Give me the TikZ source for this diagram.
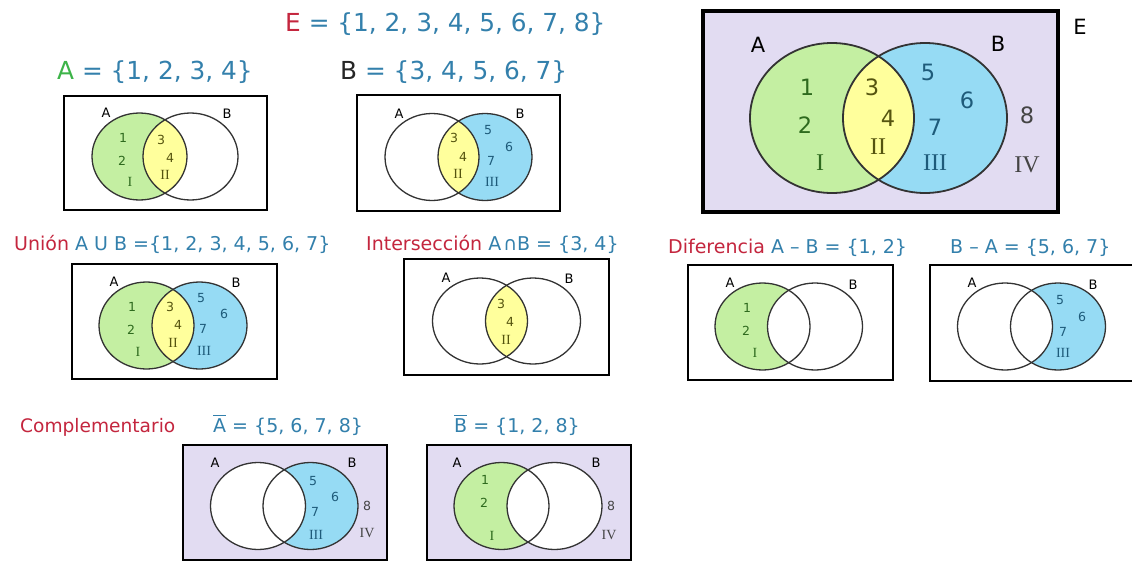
\documentclass[tikz,border=0pt]{standalone}
\usepackage{fontspec}
\setmainfont{DejaVu Sans}
\newfontfamily\romf{Liberation Serif}
\definecolor{lav}{HTML}{E2DCF2}
\definecolor{gfill}{HTML}{C4EFA2}
\definecolor{yfill}{HTML}{FFFF9C}
\definecolor{bfill}{HTML}{96DBF4}
\definecolor{redt}{HTML}{C4263E}
\definecolor{bluet}{HTML}{3380AC}
\definecolor{greent}{HTML}{3DB449}
\definecolor{dgreen}{HTML}{2E6A1E}
\definecolor{olive}{HTML}{55540F}
\definecolor{navy}{HTML}{1E5B7A}
\definecolor{grayt}{HTML}{444444}
\definecolor{cline}{HTML}{333333}
\newcommand\obar[1]{\leavevmode\vbox{\hrule height 1.4pt\kern 2.2pt\hbox{#1}}}
\newcommand\venn[9]{%
  \coordinate (#1A) at (#2,#4);
  \coordinate (#1B) at (#3,#4);
  \fill[#7] (#1A) ellipse [x radius=#5pt, y radius=#6pt];
  \fill[#9] (#1B) ellipse [x radius=#5pt, y radius=#6pt];
  \begin{scope}
    \clip (#1A) ellipse [x radius=#5pt, y radius=#6pt];
    \fill[#8] (#1B) ellipse [x radius=#5pt, y radius=#6pt];
  \end{scope}
  \draw[vcirc] (#1A) ellipse [x radius=#5pt, y radius=#6pt];
  \draw[vcirc] (#1B) ellipse [x radius=#5pt, y radius=#6pt];
}
\tikzset{
  vcirc/.style={draw=cline, line width=1.3pt},
  frame/.style={draw=black, line width=2pt},
  ttl/.style={anchor=base west, inner sep=0pt, text=bluet, font=\fontsize{19}{19}\selectfont},
  ttlbig/.style={anchor=base west, inner sep=0pt, text=bluet, font=\fontsize{24.8}{24.8}\selectfont},
  sl/.style={inner sep=0pt, text=black, font=\fontsize{13}{13}\selectfont},
  sg/.style={inner sep=0pt, text=dgreen, font=\fontsize{12.5}{12.5}\selectfont},
  sy/.style={inner sep=0pt, text=olive, font=\fontsize{12.5}{12.5}\selectfont},
  sb/.style={inner sep=0pt, text=navy, font=\fontsize{12.5}{12.5}\selectfont},
  so/.style={inner sep=0pt, text=grayt, font=\fontsize{12.5}{12.5}\selectfont},
  rg/.style={inner sep=0pt, text=dgreen, font=\romf\fontsize{14}{14}\selectfont},
  ry/.style={inner sep=0pt, text=olive, font=\romf\fontsize{14}{14}\selectfont},
  rb/.style={inner sep=0pt, text=navy, font=\romf\fontsize{14}{14}\selectfont},
  ro/.style={inner sep=0pt, text=grayt, font=\romf\fontsize{14}{14}\selectfont},
  bl/.style={inner sep=0pt, text=black, font=\fontsize{21}{21}\selectfont},
  bg/.style={inner sep=0pt, text=dgreen, font=\fontsize{22.5}{22.5}\selectfont},
  by/.style={inner sep=0pt, text=olive, font=\fontsize{22.5}{22.5}\selectfont},
  bb/.style={inner sep=0pt, text=navy, font=\fontsize{22.5}{22.5}\selectfont},
  bo/.style={inner sep=0pt, text=grayt, font=\fontsize{22.5}{22.5}\selectfont},
  brg/.style={inner sep=0pt, text=dgreen, font=\romf\fontsize{24}{24}\selectfont},
  bry/.style={inner sep=0pt, text=olive, font=\romf\fontsize{24}{24}\selectfont},
  brb/.style={inner sep=0pt, text=navy, font=\romf\fontsize{24}{24}\selectfont},
  bro/.style={inner sep=0pt, text=grayt, font=\romf\fontsize{24}{24}\selectfont},
}
\begin{document}
\begin{tikzpicture}[x=1pt, y=-1pt]
\useasboundingbox[fill=white] (0,0) rectangle (1132,562);

% ---------- titles ----------
\node[ttlbig] (tE) at (285,31) {\textcolor{redt}{E} = \{1, 2, 3, 4, 5, 6, 7, 8\}};
\node[ttlbig] (tA) at (57,79) {\textcolor{greent}{A} = \{1, 2, 3, 4\}};
\node[ttlbig] (tB) at (340,79) {\textcolor{black!85}{B} = \{3, 4, 5, 6, 7\}};
\node[ttl] (tU) at (14,250) {\textcolor{redt}{Unión} A U B =\{1, 2, 3, 4, 5, 6, 7\}};
\node[ttl] (tI) at (366,250) {\textcolor{redt}{Intersección} A\kern2pt∩B = \{3, 4\}};
\node[ttl] (tD) at (668,253) {\textcolor{redt}{Diferencia} A – B = \{1, 2\}};
\node[ttl] (tD2) at (950,253) {B – A = \{5, 6, 7\}};
\node[ttl, text=redt, font=\fontsize{18.6}{18.6}\selectfont] (tC) at (20,432) {Complementario};
\node[ttl] (tCA) at (213,432) {\obar{A} = \{5, 6, 7, 8\}};
\node[ttl] (tCB) at (454,432) {\obar{B} = \{1, 2, 8\}};

% ---------- big diagram ----------
\filldraw[fill=lav, draw=black, line width=3.5pt] (703,11) rectangle (1058,212);
\begin{scope}[vcirc/.style={draw=cline, line width=1.8pt}]
\venn{G}{832}{925}{118}{82}{75}{gfill}{yfill}{bfill}
\end{scope}
\node[bl] (GlA) at (758,45) {A};
\node[bl] (GlB) at (998,44) {B};
\node[bl] (GlE) at (1080,27) {E};
\node[bg] (G1) at (807,87) {1};
\node[bg] (G2) at (805,125) {2};
\node[brg] (GI) at (820,163) {I};
\node[by] (G3) at (872,87) {3};
\node[by] (G4) at (888,118) {4};
\node[bry] (GII) at (878,147) {II};
\node[bb] (G5) at (928,72) {5};
\node[bb] (G6) at (967,100) {6};
\node[bb] (G7) at (935,127) {7};
\node[brb] (GIII) at (935,163) {III};
\node[bo] (G8) at (1027,115) {8};
\node[bro] (GIV) at (1027,165) {IV};

% ---------- A ----------
\draw[frame] (64,96) rectangle (267,210);
\venn{P}{139.5}{190.5}{156.5}{47.5}{43.5}{gfill}{yfill}{white}
\node[sl] (PlA) at (106,113) {A};
\node[sl] (PlB) at (227,114) {B};
\node[sg] (P1) at (123,138) {1};
\node[sg] (P2) at (122,161) {2};
\node[rg] (PI) at (130,182) {I};
\node[sy] (P3) at (161,140) {3};
\node[sy] (P4) at (170,158) {4};
\node[ry] (PII) at (165,175) {II};

% ---------- B ----------
\draw[frame] (357,95) rectangle (560,211);
\venn{Q}{432}{485}{157}{47}{43.5}{white}{yfill}{bfill}
\node[sl] (QlA) at (399,114) {A};
\node[sl] (QlB) at (520,114) {B};
\node[sy] (Q3) at (454,138) {3};
\node[sy] (Q4) at (463,157) {4};
\node[ry] (QII) at (458,174) {II};
\node[sb] (Q5) at (488,130) {5};
\node[sb] (Q6) at (509,147) {6};
\node[sb] (Q7) at (491,161) {7};
\node[rb] (QIII) at (492,182) {III};

% ---------- Union ----------
\draw[frame] (72,264) rectangle (277,379);
\venn{U}{146.5}{199.5}{325.5}{47.5}{43.5}{gfill}{yfill}{bfill}
\node[sl] (UlA) at (114,282) {A};
\node[sl] (UlB) at (236,283) {B};
\node[sg] (U1) at (132,307) {1};
\node[sg] (U2) at (131,330) {2};
\node[rg] (UI) at (138,352) {I};
\node[sy] (U3) at (170,307) {3};
\node[sy] (U4) at (178,325) {4};
\node[ry] (UII) at (173,343) {II};
\node[sb] (U5) at (201,298) {5};
\node[sb] (U6) at (224,314) {6};
\node[sb] (U7) at (203,329) {7};
\node[rb] (UIII) at (204,351) {III};

% ---------- Intersection ----------
\draw[frame] (404,259) rectangle (609,375);
\venn{N}{480}{533}{321}{47.5}{43}{white}{yfill}{white}
\node[sl] (NlA) at (446,278) {A};
\node[sl] (NlB) at (569,279) {B};
\node[sy] (N3) at (501,304) {3};
\node[sy] (N4) at (510,322) {4};
\node[ry] (NII) at (506,340) {II};

% ---------- A - B ----------
\draw[frame] (688,265) rectangle (893,380);
\venn{D}{762.5}{815}{326.5}{47.5}{43.5}{gfill}{white}{white}
\node[sl] (DlA) at (730,283) {A};
\node[sl] (DlB) at (853,285) {B};
\node[sg] (D1) at (747,308) {1};
\node[sg] (D2) at (746,331) {2};
\node[rg] (DI) at (755,353) {I};

% ---------- B - A ----------
\draw[frame] (930,265) rectangle (1134,381);
\venn{F}{1005}{1058}{326.5}{47.5}{43.5}{white}{white}{bfill}
\node[sl] (FlA) at (972,283) {A};
\node[sl] (FlB) at (1093,285) {B};
\node[sb] (F5) at (1060,300) {5};
\node[sb] (F6) at (1082,317) {6};
\node[sb] (F7) at (1063,332) {7};
\node[rb] (FIII) at (1063,353) {III};

% ---------- complement of A ----------
\filldraw[frame, fill=lav] (183,445) rectangle (387,560);
\venn{K}{258}{310.5}{506}{47.5}{43.5}{white}{white}{bfill}
\node[sl] (KlA) at (215,463) {A};
\node[sl] (KlB) at (352,463) {B};
\node[sb] (K5) at (313,481) {5};
\node[sb] (K6) at (335,497) {6};
\node[sb] (K7) at (315,512) {7};
\node[rb] (KIII) at (316,535) {III};
\node[so] (K8) at (367,506) {8};
\node[ro] (KIV) at (367,533) {IV};

% ---------- complement of B ----------
\filldraw[frame, fill=lav] (427,445) rectangle (631,560);
\venn{L}{501.5}{554.5}{506}{47.5}{43.5}{gfill}{white}{white}
\node[sl] (LlA) at (457,463) {A};
\node[sl] (LlB) at (596,463) {B};
\node[sg] (L1) at (485,480) {1};
\node[sg] (L2) at (484,503) {2};
\node[rg] (LI) at (492,536) {I};
\node[so] (L8) at (611,506) {8};
\node[ro] (LIV) at (609,535) {IV};
\end{tikzpicture}
\end{document}
